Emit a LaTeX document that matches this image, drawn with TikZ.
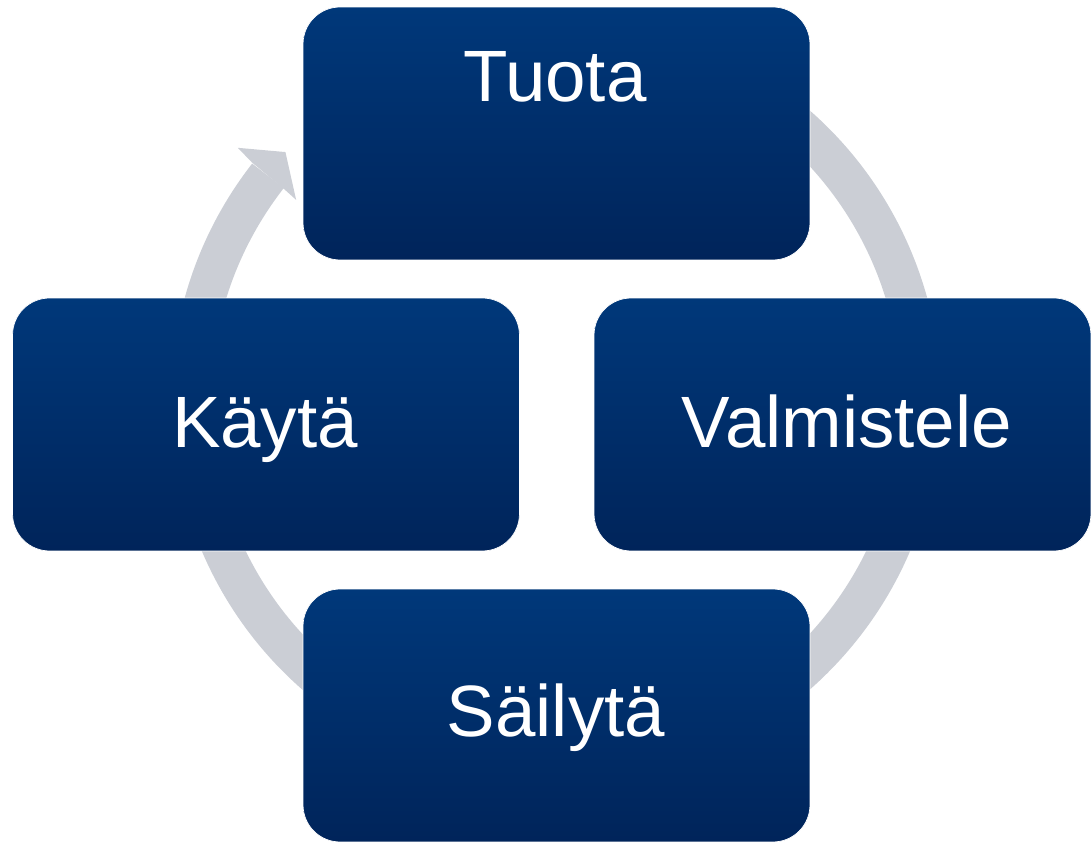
\documentclass[tikz,border=0pt]{standalone}
\usepackage{fontspec}
\setmainfont{Liberation Sans}
\usetikzlibrary{calc}
\definecolor{boxtop}{RGB}{0,56,122}
\definecolor{boxbot}{RGB}{0,36,90}
\definecolor{ringgray}{RGB}{203,206,213}
\tikzset{
  cyclebox/.style={rectangle, rounded corners=0.74cm, minimum width=10.14cm,
    minimum height=5.06cm, inner sep=0pt, top color=boxtop, bottom color=boxbot,
    draw=white, line width=0.4pt},
  lbl/.style={text=white, font=\fontsize{41.4}{50}\selectfont, inner sep=0pt, anchor=base},
  ring/.style={draw=ringgray, line width=0.8cm, line cap=butt},
  ringhead/.style={fill=ringgray, draw=none}
}
\begin{document}
\begin{tikzpicture}[x=0.02cm, y=0.02cm]
\useasboundingbox (0,0) rectangle (1092,842);
\coordinate (c) at (556,442);
% ring with arrow head
\draw[ring] ($(c)+(142.1:365)$) arc[start angle=142.1, end angle=420, radius=365];
\fill[ringhead] ($(c)+(141.6:406)$) -- ($(c)+(137.5:367)$) -- ($(c)+(142.4:328)$)
  -- ($(c)+(142.2:344)$) -- ($(c)+(142.0:386)$) -- cycle;
% boxes
\node[cyclebox] (tuota) at (556.5,708.5) {};
\node[cyclebox, minimum width=9.94cm] (valm) at (842.5,417.5) {};
\node[cyclebox] (sail) at (556.5,126.5) {};
\node[cyclebox] (kayta) at (266,417.5) {};
% labels
\node[lbl] (tuotaT) at (555,740) {Tuota};
\node[lbl] (valmT) at (847,394) {Valmistele};
\node[lbl] (sailT) at (556,105) {Säilytä};
\node[lbl] (kaytaT) at (265,394) {Käytä};
\end{tikzpicture}
\end{document}
